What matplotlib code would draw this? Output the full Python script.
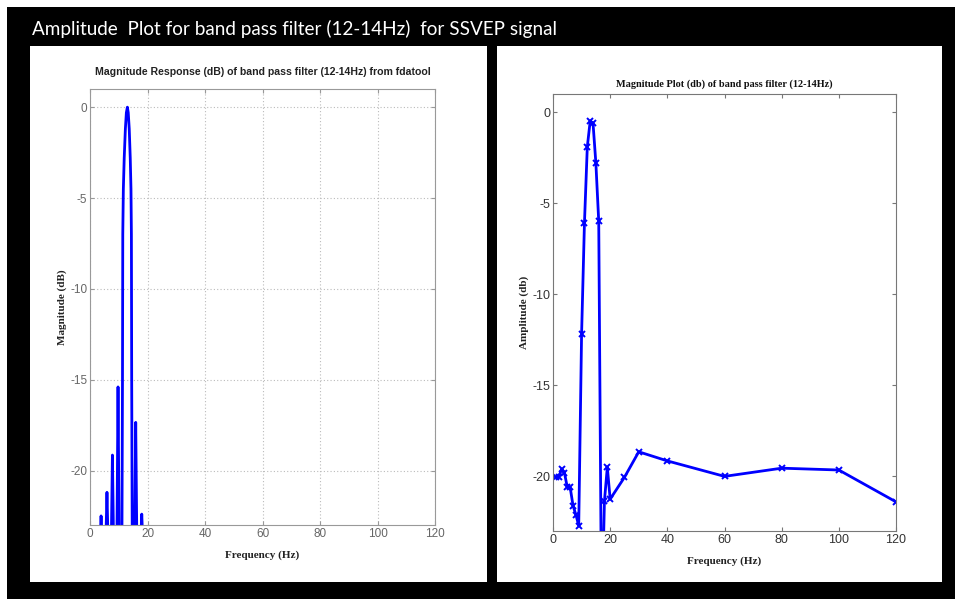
import matplotlib
matplotlib.use("Agg")
import matplotlib.pyplot as plt
from matplotlib.patches import Rectangle

plt.rcParams["axes.unicode_minus"] = False

# ---------------- data ----------------
# Left: magnitude response from fdatool
left_freq = [3.45, 3.85, 4.25, 5.5, 5.9, 6.3, 7.4, 7.8, 8.2, 9.35, 9.75, 10.15,
             11.1, 11.3, 11.4, 11.6, 11.9, 12.3, 12.65, 13.0, 13.3, 13.65, 14.0,
             14.25, 14.4, 14.5, 14.7, 15.5, 15.9, 16.3, 17.6, 18.0, 18.4]
left_mag = [-24, -22.5, -24, -24, -21.2, -24, -24, -19.15, -24, -24, -15.4, -24,
            -24, -15, -7, -4.5, -2.8, -1.2, -0.3, 0.0, -0.3, -1.2, -2.8,
            -4.5, -7, -15, -24, -24, -17.35, -24, -24, -22.4, -24]

# Right: magnitude plot (db)
right_freq = [1, 2, 3, 4, 5, 6, 7, 8, 9, 10, 11, 12, 13, 14, 15, 16, 17, 18, 19,
              20, 25, 30, 40, 60, 80, 100, 120]
right_amp = [-20.05, -20.05, -19.6, -19.8, -20.6, -20.6, -21.6, -22.1, -22.7,
             -12.2, -6.1, -1.9, -0.5, -0.6, -2.8, -6.0, -28.0, -21.35, -19.5,
             -21.25, -20.05, -18.65, -19.15, -20.0, -19.55, -19.65, -21.4]

xticks = [0, 20, 40, 60, 80, 100, 120]
yticks = [0, -5, -10, -15, -20]

main_title = "Amplitude  Plot for band pass filter (12-14Hz)  for SSVEP signal"
left_title = "Magnitude Response (dB) of band pass filter (12-14Hz) from fdatool"
right_title = "Magnitude Plot (db) of band pass filter (12-14Hz)"

# ---------------- figure ----------------
W, H = 955, 599
fig = plt.figure(figsize=(W / 100, H / 100), dpi=100)
fig.patch.set_facecolor("white")

def px_rect(x0, y0, x1, y1, color):
    fig.patches.append(Rectangle((x0 / W, 1 - y1 / H), (x1 - x0) / W, (y1 - y0) / H,
                                 transform=fig.transFigure, facecolor=color,
                                 edgecolor="none", zorder=-10))

px_rect(7, 7, W, H, "black")
px_rect(30, 46, 487, 582, "white")
px_rect(497, 46, 942, 582, "white")

fig.text(32 / W, 1 - 29 / H, main_title, color="white", fontsize=13.6,
         family=["Lato", "DejaVu Sans"], va="center", ha="left")

sans = ["Liberation Sans", "DejaVu Sans"]
serif = ["Liberation Serif", "DejaVu Serif"]

# ---------- left axes ----------
axL = fig.add_axes([90 / W, 1 - 525 / H, 345 / W, 436 / H])
axL.plot(left_freq, left_mag, color="#0000ff", lw=2)
axL.set_xlim(0, 120)
axL.set_ylim(-23, 1)
axL.set_xticks(xticks)
axL.set_yticks(yticks)
axL.grid(True, linestyle=(0, (1, 2)), color="#bbbbbb", lw=0.8)
for s in axL.spines.values():
    s.set_color("#999999")
    s.set_linewidth(0.8)
axL.tick_params(direction="in", top=True, right=True, length=3, color="#999999",
                labelcolor="#666666", labelsize=8.5, pad=2)
for lab in axL.get_xticklabels() + axL.get_yticklabels():
    lab.set_family(sans)
axL.set_title(left_title, fontsize=7.6, fontweight="bold", family=sans,
              color="#222222", pad=10)
axL.set_xlabel("Frequency (Hz)", fontsize=8, fontweight="bold", family=serif,
               color="#222222", labelpad=8)
axL.set_ylabel("Magnitude (dB)", fontsize=8, fontweight="bold", family=serif,
               color="#222222", labelpad=2)

# ---------- right axes ----------
axR = fig.add_axes([553 / W, 1 - 531 / H, 343 / W, 437 / H])
axR.plot(right_freq, right_amp, color="#0000ff", lw=2, marker="x", ms=4, mew=1.4)
axR.set_xlim(0, 120)
axR.set_ylim(-23, 1)
axR.set_xticks(xticks)
axR.set_yticks(yticks)
for s in axR.spines.values():
    s.set_color("#777777")
    s.set_linewidth(0.8)
axR.tick_params(direction="in", top=True, right=True, length=3, color="#777777",
                labelcolor="#333333", labelsize=9, pad=2)
for lab in axR.get_xticklabels() + axR.get_yticklabels():
    lab.set_family(sans)
axR.set_title(right_title, fontsize=7.4, fontweight="bold", family=serif,
              color="#111111", pad=5)
axR.set_xlabel("Frequency (Hz)", fontsize=8, fontweight="bold", family=serif,
               color="#222222", labelpad=8)
axR.set_ylabel("Amplitude (db)", fontsize=8, fontweight="bold", family=serif,
               color="#222222", labelpad=2)

fig.savefig("out.png", dpi=100, facecolor=fig.get_facecolor())
